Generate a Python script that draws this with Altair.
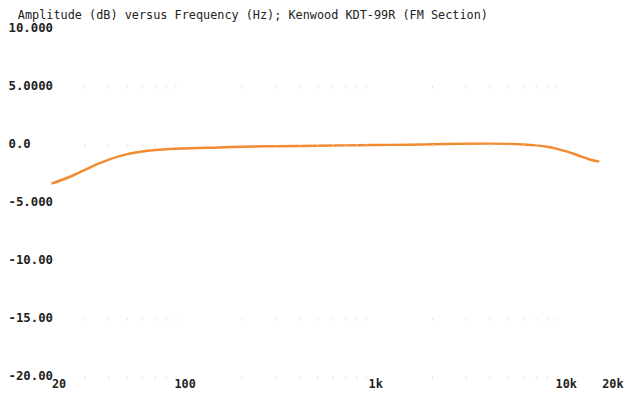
import altair as alt
import pandas as pd

freq = [20, 25, 30, 35, 40, 50, 60, 70, 80, 100, 150, 200, 300, 500, 700,
        1000, 1500, 2000, 3000, 4000, 5000, 6000, 7000, 8000, 9000, 10000,
        11000, 12000, 13000, 14000, 15000]
db = [-3.3, -2.7, -2.1, -1.6, -1.22, -0.75, -0.52, -0.4, -0.33, -0.26, -0.18,
      -0.12, -0.07, -0.03, 0.0, 0.03, 0.06, 0.1, 0.14, 0.15, 0.13, 0.08, 0.0,
      -0.12, -0.3, -0.5, -0.72, -0.95, -1.15, -1.3, -1.4]

y_ticks = [10, 5, 0, -5, -10, -15, -20]
y_labels = ["10.000", "5.0000", "0.0", "-5.000", "-10.00", "-15.00", "-20.00"]
x_ticks = [20, 100, 1000, 10000, 20000]
x_labels = ["20", "100", "1k", "10k", "20k"]

dot_freqs = [30, 40, 50, 60, 70, 80, 90, 200, 300, 400, 500, 600, 700, 800, 900,
             2000, 3000, 4000, 5000, 6000, 7000, 8000, 9000]
dot_rows = [5, 0, -15, -20]

df = pd.DataFrame({"f": freq, "db": db})
dots = pd.DataFrame([{"f": f, "db": r} for r in dot_rows for f in dot_freqs])


def label_expr(vals, labs):
    parts = [f"datum.value == {v} ? '{l}'" for v, l in zip(vals, labs)]
    return " : ".join(parts) + " : ''"


FONT = "DejaVu Sans Mono"

xscale = alt.Scale(type="log", domain=[20, 20000], nice=False)
yscale = alt.Scale(domain=[-20, 10], nice=False)

base_x = alt.X("f:Q", scale=xscale,
               axis=alt.Axis(values=x_ticks, labelExpr=label_expr(x_ticks, x_labels),
                             title=None, grid=False, domain=False, ticks=False,
                             labelFont=FONT, labelFontWeight="bold", labelFontSize=12,
                             labelColor="#222", labelPadding=1, labelFlush=False,
                             labelOverlap=False,
                             labelAlign={"condition": [
                                 {"test": "datum.value == 20", "value": "left"},
                                 {"test": "datum.value == 20000", "value": "right"}],
                                 "value": "center"}))
base_y = alt.Y("db:Q", scale=yscale,
               axis=alt.Axis(values=y_ticks, labelExpr=label_expr(y_ticks, y_labels),
                             title=None, grid=False, domain=False, ticks=False,
                             labelFont=FONT, labelFontWeight="bold", labelFontSize=12.5,
                             labelColor="#222", labelAlign="left", labelPadding=44,
                             labelOffset=-2, labelFlush=False, labelOverlap=False))

dot_layer = alt.Chart(dots).mark_tick(color="#d8d8d8", size=3, thickness=1, orient="vertical").encode(
    x=alt.X("f:Q", scale=xscale), y=alt.Y("db:Q", scale=yscale))

line = alt.Chart(df).mark_line(color="#f28b30", strokeWidth=2.5, interpolate="monotone").encode(
    x=base_x, y=base_y)

chart = alt.layer(line, dot_layer).properties(
    width=579, height=353,
    background="white",
    title=alt.TitleParams("Amplitude (dB) versus Frequency (Hz); Kenwood KDT-99R (FM Section)",
                          anchor="start", frame="group", dx=-34, dy=1, offset=0,
                          font=FONT, fontSize=12, fontWeight="normal", color="#222"),
    autosize=alt.AutoSizeParams(type="none"),
    padding={"left": 44, "top": 19, "right": 6, "bottom": 13},
).configure_view(stroke=None)

chart.save("out.html", embed_options={"renderer": "svg", "actions": False})
